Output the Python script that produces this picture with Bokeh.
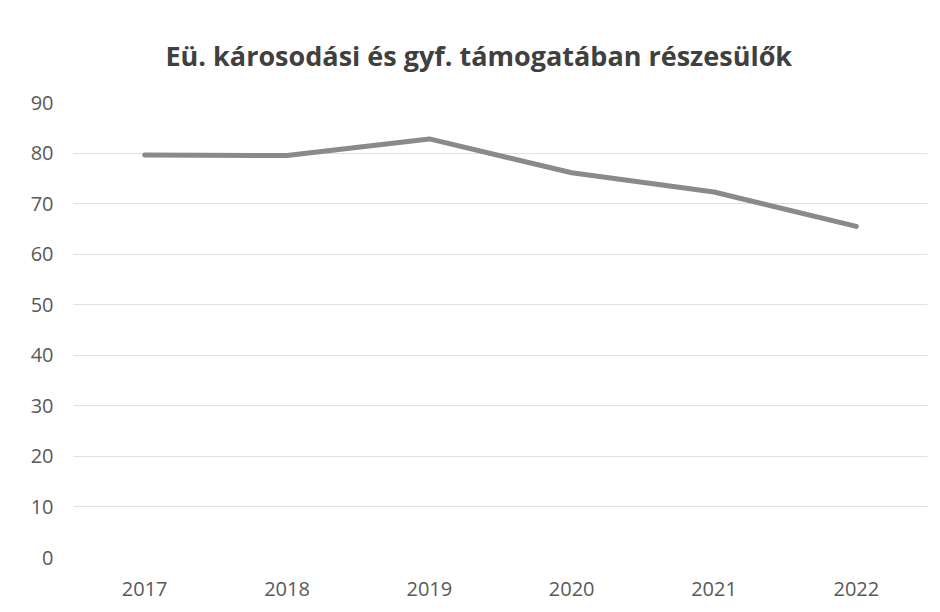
from bokeh.plotting import figure
from bokeh.models import Range1d, FactorRange, SingleIntervalTicker, Title
from bokeh.embed import file_html
from bokeh.resources import INLINE

years = ["2017", "2018", "2019", "2020", "2021", "2022"]
values = [79.6, 79.5, 82.8, 76.1, 72.3, 65.5]
title_text = "Eü. károsodási és gyf. támogatában részesülők"

p = figure(
    width=932, height=604,
    x_range=FactorRange(*years, range_padding=0),
    y_range=Range1d(0, 90),
    output_backend="svg", toolbar_location=None,
    min_border_left=73, min_border_right=5,
    min_border_top=102, min_border_bottom=47,
)
p.title = None
t = Title(text=title_text, align="left", offset=92,
          text_font="Open Sans", text_font_style="bold",
          text_font_size="27px", text_color="#404040",
          vertical_align="middle", standoff=55)
p.add_layout(t, "above")

p.line(x=years, y=values, line_color="#8a8a8a", line_width=5,
       line_cap="round", line_join="round")

p.outline_line_color = None
p.xgrid.grid_line_color = None
p.ygrid.grid_line_color = "#e0e0e0"
p.ygrid.grid_line_width = 1
p.yaxis.ticker = SingleIntervalTicker(interval=10)

for ax in (p.xaxis[0], p.yaxis[0]):
    ax.axis_line_color = None
    ax.major_tick_line_color = None
    ax.minor_tick_line_color = None
    ax.major_label_text_font = "Open Sans"
    ax.major_label_text_font_size = "20px"
    ax.major_label_text_color = "#595959"
p.yaxis.major_label_standoff = 14
p.xaxis.major_label_standoff = 18

open("out.html", "w").write(file_html(p, INLINE))
